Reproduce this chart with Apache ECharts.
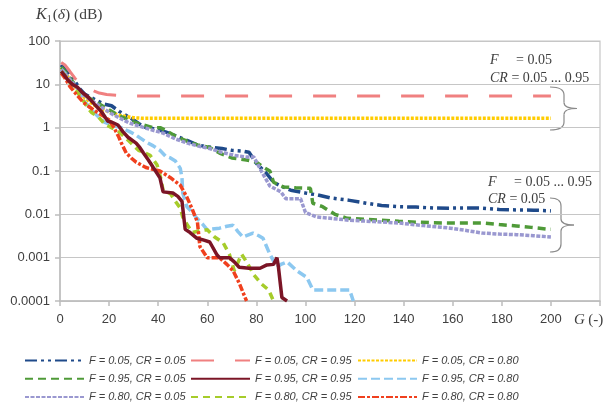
<!DOCTYPE html>
<html>
<head>
<meta charset="utf-8">
<script src="https://cdn.jsdelivr.net/npm/echarts@6/dist/echarts.min.js"></script>
<style>html,body{margin:0;padding:0;background:#fff}#c{width:608px;height:417px}</style>
</head>
<body>
<div id="c"></div>
<script>
// ---- data (G, K1 in dB) ----
const yTickLabels = ['0.0001','0.001','0.01','0.1','1','10','100'];
const xTickMax = 220;
const seriesNames = [
  'F = 0.05, CR = 0.05','F = 0.05, CR = 0.95','F = 0.05, CR = 0.80',
  'F = 0.95, CR = 0.05','F = 0.95, CR = 0.95','F = 0.95, CR = 0.80',
  'F = 0.80, CR = 0.05','F = 0.80, CR = 0.95','F = 0.80, CR = 0.80'
];
const d_F005_CR005 = [[0.5,28],[2,22],[4,16],[6,12],[8,8],[10,6],[12,5.2],[15,4.2],[18,3.5],[21,3.2],[24,2.4],[27,1.9],[30,1.5],[34,1.05],[38,0.95],[43,0.8],[48,0.62],[52,0.5],[56,0.4],[60,0.36],[66,0.33],[70,0.3],[74,0.29],[77,0.27],[80,0.15],[84,0.09],[87,0.055],[90,0.045],[94,0.036],[100,0.031],[105,0.028],[110,0.024],[118,0.021],[125,0.018],[131,0.016],[138,0.015],[145,0.0147],[152,0.014],[159,0.0139],[166,0.014],[172,0.0139],[179,0.013],[186,0.0126],[193,0.0125],[200,0.012]];
const d_F005_CR095 = [[0.5,32],[2,28],[4,20],[6,14],[8,10.5],[10,9],[12,8],[14,7],[16,6.3],[19,5.8],[23,5.6],[30,5.4],[200,5.4]];
const d_F005_CR080 = [[0.5,24],[2,19],[4,13],[6,9],[8,6.3],[10,5],[12,4],[14,3.3],[17,2.7],[21,2.2],[24,1.95],[27,1.8],[30,1.7],[33,1.65],[200,1.65]];
const d_F095_CR005 = [[0.5,25],[2,20],[4,14],[6,10],[8,7],[10,5.5],[12,4.8],[15,3.8],[18,3],[21,2.4],[24,1.9],[27,1.6],[30,1.35],[34,1.15],[38,1.0],[41,1.0],[44,0.8],[48,0.6],[52,0.48],[56,0.4],[61,0.35],[65,0.26],[70,0.2],[76,0.18],[80,0.16],[83,0.12],[85.5,0.1],[87,0.055],[91,0.043],[96,0.041],[102,0.04],[103,0.018],[107,0.015],[112,0.01],[117,0.0081],[124,0.0077],[131,0.0073],[138,0.0069],[145,0.0066],[152,0.0064],[159,0.0063],[166,0.0063],[172,0.0063],[179,0.0058],[186,0.0054],[192,0.005],[198,0.0046],[200,0.0045]];
const d_F095_CR095 = [[0.5,20],[1.5,17],[3,13],[5,10],[7,8.7],[9,6.5],[11.4,5.1],[14,3.5],[17,2.3],[19.5,1.4],[21,1.35],[23.6,1.15],[25.7,0.8],[27.7,0.6],[31,0.44],[32.5,0.35],[34,0.26],[36,0.18],[38,0.12],[40.7,0.07],[42,0.033],[46,0.031],[48,0.026],[49.7,0.02],[51,0.0045],[53,0.0038],[55.8,0.0028],[58,0.0026],[61,0.0023],[64,0.00115],[65,0.001],[69,0.001],[71,0.0008],[73,0.0006],[77,0.00057],[81.5,0.00057],[84.3,0.00068],[87,0.0007],[88.4,0.001],[89,0.0006],[90.4,0.00012],[92.5,0.0001]];
const d_F095_CR080 = [[0.5,22],[2,18],[4,12],[6,8],[8,6],[10,4],[12,3],[14,2.2],[16,1.7],[18,1.35],[21,1.15],[25,1.0],[28.5,0.8],[30.5,0.7],[32.6,0.58],[35,0.47],[38,0.38],[40.7,0.3],[43,0.22],[45,0.2],[47,0.17],[49,0.115],[49.7,0.069],[50,0.031],[51.7,0.015],[53,0.0126],[55.8,0.0081],[58,0.006],[60,0.0044],[62,0.0046],[65,0.0048],[68,0.0053],[70.5,0.0056],[72.5,0.004],[74.5,0.003],[78.6,0.0037],[81,0.0032],[82.7,0.0028],[85.5,0.0012],[88.4,0.0006],[90,0.0007],[92.5,0.0008],[96.5,0.0005],[100.6,0.00035],[103,0.00018],[111,0.00018],[118,0.00018],[119.5,0.0001]];
const d_F080_CR005 = [[0.5,22],[2,18],[4,13],[6,9.5],[8,7],[10,5.5],[12,4.5],[15,3.5],[18,2.7],[21,2.1],[24,1.7],[28,1.3],[32,1.1],[37,0.9],[42,0.75],[47,0.55],[52,0.44],[56,0.38],[61,0.33],[66,0.27],[71,0.23],[76,0.21],[79,0.21],[82,0.1],[85.5,0.045],[90,0.033],[92,0.023],[98,0.023],[100,0.011],[104.5,0.0087],[111,0.008],[118,0.0073],[128,0.0068],[138,0.0063],[148,0.0055],[159,0.0048],[166,0.0042],[172,0.0037],[179,0.0035],[186,0.0034],[193,0.0032],[200,0.003]];
const d_F080_CR095 = [[0.5,20],[2,16],[4,11],[6,8],[8,5.5],[10,3.8],[11.4,2.8],[13,2.2],[15.5,1.8],[18.3,1.2],[21,1.0],[24,0.8],[28,0.5],[32,0.3],[34,0.27],[36.7,0.23],[39.5,0.14],[41,0.07],[42,0.036],[45,0.03],[47,0.02],[49,0.014],[50,0.0087],[52,0.0055],[54,0.0038],[57,0.0042],[60,0.0044],[63,0.003],[66.5,0.0022],[69,0.0012],[71,0.0005],[74,0.0012],[76,0.0008],[79,0.0004],[82,0.00025],[85,0.00018],[87,0.0001]];
const d_F080_CR080 = [[0.5,18],[2,14],[4,9],[6,6.5],[8,4.8],[9.4,3.9],[12,3],[15,2.3],[18,1.8],[20,1.5],[22,1.0],[24,0.6],[25,0.44],[27,0.26],[29,0.2],[31,0.16],[35,0.12],[40.7,0.1],[45,0.07],[49,0.047],[51.7,0.025],[54,0.0126],[56,0.0066],[57,0.0018],[60,0.001],[65,0.001],[68,0.0007],[70.5,0.0005],[73,0.00026],[76,0.0001]];

const seriesData = [d_F005_CR005,d_F005_CR095,d_F005_CR080,d_F095_CR005,d_F095_CR095,d_F095_CR080,d_F080_CR005,d_F080_CR095,d_F080_CR080];
const colors = ['#1f4a8a','#f08080','#ffcc00','#4f9a38','#7b1526','#8cc8f0','#9a98d0','#a6cc2a','#f0401e'];
const dashes = [[12,4,3,4,3,4],[23,21],[3,1.5],[8,5],'solid',[9,4],[4,1.5],[7,5],[7,2,3,2]];
const widths = [3.5,3,3.5,3.5,3.5,3.5,3.5,3.5,3.5];
const zs = [2,2,2,2,5,2,2,2,3];

const chart = echarts.init(document.getElementById('c'), null, {renderer:'canvas'});
const SANS = 'Liberation Sans, Arial, sans-serif';
const SERIF = 'Liberation Serif, Times New Roman, serif';

const series = seriesData.map((d,i)=>({
  name: seriesNames[i], type:'line', data:d, symbol:'none', z: zs[i],
  lineStyle:{color:colors[i], width:widths[i], type:dashes[i], cap:'butt'},
  itemStyle:{color:colors[i]}, animation:false
}));

function legendCol(idx, left){
  return {
    orient:'vertical', left:left, top:355, height:70, padding:0,
    itemWidth:59, itemHeight:14, itemGap:7,
    itemStyle:{opacity:0},
    textStyle:{fontFamily:SANS, fontStyle:'italic', fontSize:11, color:'#404040'},
    data: idx.map(i=>seriesNames[i]), selectedMode:false
  };
}

function brace(xl, xm, xp, yt, yb){
  const ym = (yt+yb)/2;
  const st = {stroke:'#8a8a8a', lineWidth:1.2, fill:null};
  return [
    {type:'bezierCurve', shape:{x1:xl,y1:yt,x2:xm,y2:yt+8,cpx1:xm,cpy1:yt}, style:st, silent:true},
    {type:'line', shape:{x1:xm,y1:yt+8,x2:xm,y2:ym-6}, style:st, silent:true},
    {type:'bezierCurve', shape:{x1:xm,y1:ym-6,x2:xp,y2:ym,cpx1:xm,cpy1:ym}, style:st, silent:true},
    {type:'bezierCurve', shape:{x1:xp,y1:ym,x2:xm,y2:ym+6,cpx1:xm,cpy1:ym}, style:st, silent:true},
    {type:'line', shape:{x1:xm,y1:ym+6,x2:xm,y2:yb-8}, style:st, silent:true},
    {type:'bezierCurve', shape:{x1:xm,y1:yb-8,x2:xl,y2:yb,cpx1:xm,cpy1:yb}, style:st, silent:true}
  ];
}

chart.setOption({
  animation:false,
  grid:{left:60, top:41, right:8, bottom:116, show:true, borderColor:'#c6c6c6', borderWidth:1.2},
  xAxis:{type:'value', min:0, max:xTickMax, interval:20,
    axisLine:{show:true, lineStyle:{color:'#bdbdbd', width:1.5}},
    axisTick:{show:true, length:5, lineStyle:{color:'#bdbdbd', width:1.5}},
    splitLine:{show:false},
    axisLabel:{margin:12, fontFamily:SANS, fontSize:13, color:'#404040',
      formatter:v=> v===xTickMax ? '' : String(v)}
  },
  yAxis:{type:'log', logBase:10, min:0.0001, max:100,
    axisLine:{show:true, lineStyle:{color:'#bdbdbd', width:1.5}},
    axisTick:{show:true, length:5, lineStyle:{color:'#bdbdbd', width:1.5}},
    splitLine:{show:true, lineStyle:{color:'#c6c6c6', width:1.2}},
    minorTick:{show:false},
    axisLabel:{margin:10, fontFamily:SANS, fontSize:13, color:'#404040',
      formatter:v=> yTickLabels[Math.round(Math.log10(v))+4]}
  },
  legend:[legendCol([0,3,6],24), legendCol([1,4,7],190), legendCol([2,5,8],357)],
  series: series,
  graphic:[
    {type:'text', left:36, top:7, style:{
      text:'{k|K}{s|1}{n|(}{d|δ}{n|) (dB)}',
      rich:{
        k:{fontFamily:SERIF, fontStyle:'italic', fontSize:16, fill:'#404040'},
        s:{fontFamily:SERIF, fontSize:10, fill:'#404040', padding:[8,1,0,0]},
        n:{fontFamily:SERIF, fontSize:15.5, fill:'#404040'},
        d:{fontFamily:SERIF, fontStyle:'italic', fontSize:15.5, fill:'#404040'}
      }}},
    {type:'text', left:574, top:313, style:{
      text:'{g|G} {n|(-)}',
      rich:{g:{fontFamily:SERIF, fontStyle:'italic', fontSize:15, fill:'#404040'},
            n:{fontFamily:SERIF, fontSize:15, fill:'#404040'}}}},
    {type:'text', left:490, top:53, style:{
      text:'{i|F}{n|     = 0.05}\n{i|CR}{n| = 0.05 ... 0.95}',
      rich:{i:{fontFamily:SERIF, fontStyle:'italic', fontSize:14, fill:'#404040', lineHeight:18},
            n:{fontFamily:SERIF, fontSize:14, fill:'#404040', lineHeight:18}}}},
    {type:'text', left:488, top:175, style:{
      text:'{i|F}{n|     = 0.05 ... 0.95}\n{i|CR}{n| = 0.05}',
      rich:{i:{fontFamily:SERIF, fontStyle:'italic', fontSize:14, fill:'#404040', lineHeight:17},
            n:{fontFamily:SERIF, fontSize:14, fill:'#404040', lineHeight:17}}}}
  ].concat(brace(550,564,577,87,130)).concat(brace(550,561,574,198,252))
});
</script>
</body>
</html>
